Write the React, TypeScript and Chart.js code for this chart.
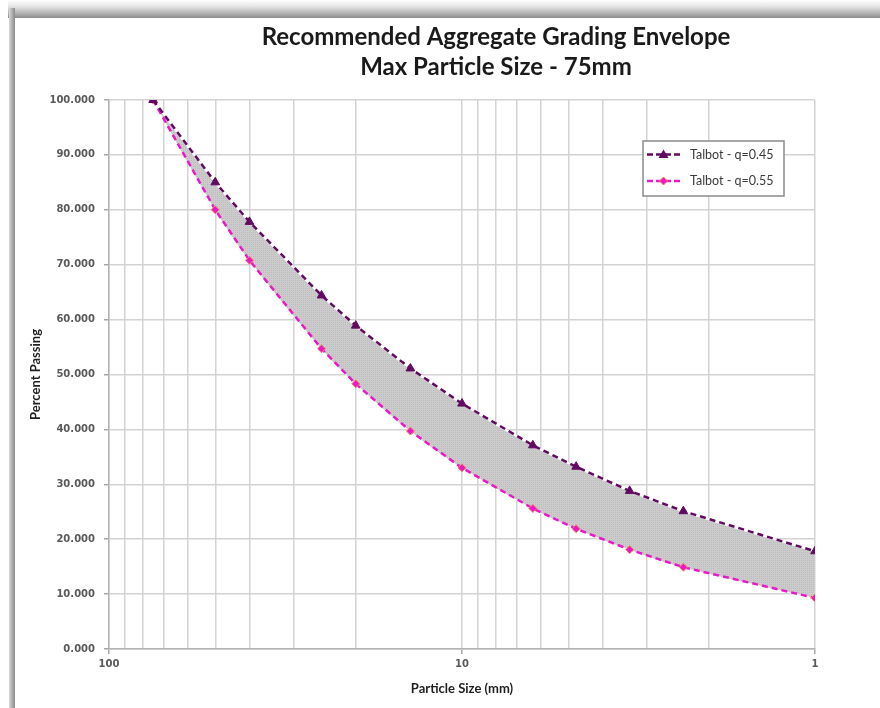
import React, { useEffect, useRef } from 'react';
import { Chart, registerables } from 'chart.js';

Chart.register(...registerables);

// ---- data ----
const particleSizes = [75, 50, 40, 25, 20, 14, 10, 6.3, 4.75, 3.35, 2.36, 1];
const talbot045 = [100, 85.0, 77.8, 64.4, 58.9, 51.1, 44.7, 37.1, 33.2, 28.8, 25.1, 17.8];
const talbot055 = [100, 80.0, 70.8, 54.7, 48.3, 39.7, 33.0, 25.6, 21.9, 18.1, 14.9, 9.3];
const seriesLabels = ['Talbot - q=0.45', 'Talbot - q=0.55'];
const xGridValues = [1, 2, 3, 4, 5, 6, 7, 8, 9, 10, 20, 30, 40, 50, 60, 70, 80, 90, 100];
const xLabelValues = [1, 10, 100];
const titleLines = ['Recommended Aggregate Grading Envelope', 'Max Particle Size - 75mm'];
const xTitle = 'Particle Size (mm)';
const yTitle = 'Percent Passing';

const PURPLE = '#620a62';
const PINK = '#ec18c8';

function makePattern(): CanvasPattern | string {
  const c = document.createElement('canvas');
  c.width = 4;
  c.height = 4;
  const g = c.getContext('2d');
  if (!g) return '#c8c8c8';
  g.fillStyle = '#cbcbcb';
  g.fillRect(0, 0, 4, 4);
  g.fillStyle = '#bebebe';
  g.fillRect(0, 0, 1, 1);
  g.fillRect(2, 2, 1, 1);
  g.fillRect(2, 0, 1, 1);
  g.fillRect(0, 2, 1, 1);
  const p = g.createPattern(c, 'repeat');
  return p || '#c8c8c8';
}

const toPoints = (ys: number[]) => particleSizes.map((x, i) => ({ x, y: ys[i] }));

const titlePlugin = {
  id: 'excelTitle',
  afterDraw(chart: any) {
    const { ctx } = chart;
    ctx.save();
    ctx.fillStyle = '#1a1a1a';
    ctx.font = 'bold 24px Lato';
    ctx.textAlign = 'center';
    ctx.textBaseline = 'alphabetic';
    const cx = chart.chartArea.left + (chart.chartArea.right - chart.chartArea.left) / 2 + 34;
    ctx.fillText(titleLines[0], cx, 27);
    ctx.fillText(titleLines[1], cx, 57);
    ctx.restore();
  },
};

const legendPlugin = {
  id: 'boxLegend',
  afterDraw(chart: any) {
    const { ctx, chartArea } = chart;
    const x0 = chartArea.right - 172;
    const y0 = chartArea.top + 41;
    const w = 141;
    const h = 55;
    ctx.save();
    ctx.fillStyle = '#ffffff';
    ctx.fillRect(x0, y0, w, h);
    ctx.strokeStyle = '#8a8a8a';
    ctx.lineWidth = 1.5;
    ctx.strokeRect(x0, y0, w, h);
    [0, 1].forEach((i) => {
      const ds = chart.data.datasets[i];
      const y = y0 + 13.5 + i * 26.5;
      ctx.setLineDash([6, 3]);
      ctx.strokeStyle = ds.borderColor;
      ctx.lineWidth = 2.5;
      ctx.beginPath();
      ctx.moveTo(x0 + 4, y);
      ctx.lineTo(x0 + 37, y);
      ctx.stroke();
      ctx.setLineDash([]);
      const mx = x0 + 20.5;
      ctx.fillStyle = ds.pointBackgroundColor;
      ctx.beginPath();
      if (i === 0) {
        ctx.moveTo(mx, y - 5);
        ctx.lineTo(mx + 5, y + 3.5);
        ctx.lineTo(mx - 5, y + 3.5);
      } else {
        ctx.moveTo(mx, y - 4);
        ctx.lineTo(mx + 4, y);
        ctx.lineTo(mx, y + 4);
        ctx.lineTo(mx - 4, y);
      }
      ctx.closePath();
      ctx.fill();
      if (i === 1) {
        ctx.strokeStyle = ds.pointBorderColor;
        ctx.lineWidth = 1;
        ctx.stroke();
      }
      ctx.fillStyle = '#3a3a3a';
      ctx.font = '12.5px Lato';
      ctx.textAlign = 'left';
      ctx.textBaseline = 'middle';
      ctx.fillText(ds.label, x0 + 47, y);
    });
    ctx.restore();
  },
};

function GradingChart() {
  const ref = useRef<HTMLCanvasElement | null>(null);

  useEffect(() => {
    document.body.style.margin = '0';
    if (!ref.current) return;
    const pattern = makePattern();
    const tickFont = { family: 'DejaVu Sans', size: 10, weight: 'bold' as const };
    const chart = new Chart(ref.current, {
      type: 'line',
      data: {
        datasets: [
          {
            label: seriesLabels[0],
            data: toPoints(talbot045),
            borderColor: PURPLE,
            backgroundColor: PURPLE,
            borderWidth: 2.5,
            borderDash: [6, 4],
            tension: 0,
            fill: false,
            pointStyle: 'triangle',
            pointRadius: 5,
            pointBackgroundColor: PURPLE,
            pointBorderColor: PURPLE,
            pointBorderWidth: 1,
            order: 0,
          },
          {
            label: seriesLabels[1],
            data: toPoints(talbot055),
            borderColor: PINK,
            backgroundColor: PINK,
            borderWidth: 2.5,
            borderDash: [6, 4],
            tension: 0,
            fill: false,
            pointStyle: 'rectRot',
            pointRadius: 4,
            pointBackgroundColor: PINK,
            pointBorderColor: '#f2875a',
            pointBorderWidth: 1,
            order: 0,
          },
          {
            label: 'envelope-upper',
            data: toPoints(talbot045),
            borderColor: '#ffffff',
            borderWidth: 2,
            backgroundColor: pattern as any,
            tension: 0.4,
            pointRadius: 0,
            fill: '+1',
            order: 2,
          },
          {
            label: 'envelope-lower',
            data: toPoints(talbot055),
            borderColor: '#ffffff',
            borderWidth: 2,
            backgroundColor: 'transparent',
            tension: 0.4,
            pointRadius: 0,
            fill: false,
            order: 2,
          },
        ],
      },
      options: {
        animation: false,
        responsive: false,
        parsing: true,
        layout: { padding: { top: 82, right: 65, left: 0, bottom: 0 } },
        plugins: {
          legend: { display: false },
          title: { display: false },
          tooltip: { enabled: false },
        },
        scales: {
          x: {
            type: 'logarithmic',
            reverse: true,
            min: 1,
            max: 100,
            afterBuildTicks: (scale: any) => {
              scale.ticks = xGridValues.map((v) => ({ value: v }));
            },
            afterFit: (scale: any) => {
              scale.height = 59;
            },
            grid: {
              color: '#d3d3d3',
              lineWidth: 1.5,
              tickLength: 5,
              tickColor: (ctx: any) =>
                ctx.tick && xLabelValues.includes(ctx.tick.value) ? '#a6a6a6' : 'rgba(0,0,0,0)',
            },
            border: { color: '#b3b3b3', width: 1.5 },
            ticks: {
              autoSkip: false,
              maxRotation: 0,
              padding: 4,
              color: '#595959',
              font: tickFont,
              callback: (v: any) => (xLabelValues.includes(Number(v)) ? String(v) : ''),
            },
            title: {
              display: true,
              text: xTitle,
              color: '#1f1f1f',
              font: { family: 'Lato', size: 13, weight: 'bold' },
              padding: { top: 0, bottom: 11 },
            },
          },
          y: {
            type: 'linear',
            min: 0,
            max: 100,
            afterFit: (scale: any) => {
              scale.width = 94;
            },
            grid: {
              color: '#d3d3d3',
              lineWidth: 1.5,
              tickLength: 5,
              tickColor: '#a6a6a6',
            },
            border: { color: '#b3b3b3', width: 1.5 },
            ticks: {
              stepSize: 10,
              padding: 9,
              color: '#595959',
              font: tickFont,
              callback: (v: any) => Number(v).toFixed(3),
            },
            title: {
              display: true,
              text: yTitle,
              color: '#1f1f1f',
              font: { family: 'Lato', size: 13, weight: 'bold' },
              padding: { top: 13, bottom: 0 },
            },
          },
        },
      },
      plugins: [titlePlugin, legendPlugin],
    });
    return () => chart.destroy();
  }, []);

  return <canvas ref={ref} width={865} height={690} style={{ display: 'block' }} />;
}

export default function App() {
  return (
    <div style={{ position: 'relative', width: 880, height: 708, background: '#ffffff', overflow: 'hidden' }}>
      <div
        style={{
          position: 'absolute',
          left: 8,
          top: 0,
          width: 872,
          height: 18,
          background: 'linear-gradient(to bottom, #ffffff 0%, #e6e6e6 35%, #b0b0b0 75%, #8c8c8c 100%)',
        }}
      />
      <div
        style={{
          position: 'absolute',
          left: 9,
          top: 8,
          width: 6,
          height: 700,
          background: 'linear-gradient(to right, #d8d8d8 0%, #a8a8a8 60%, #8c8c8c 100%)',
        }}
      />
      <div style={{ position: 'absolute', left: 15, top: 18, width: 865, height: 690, background: '#ffffff' }}>
        <GradingChart />
      </div>
    </div>
  );
}
